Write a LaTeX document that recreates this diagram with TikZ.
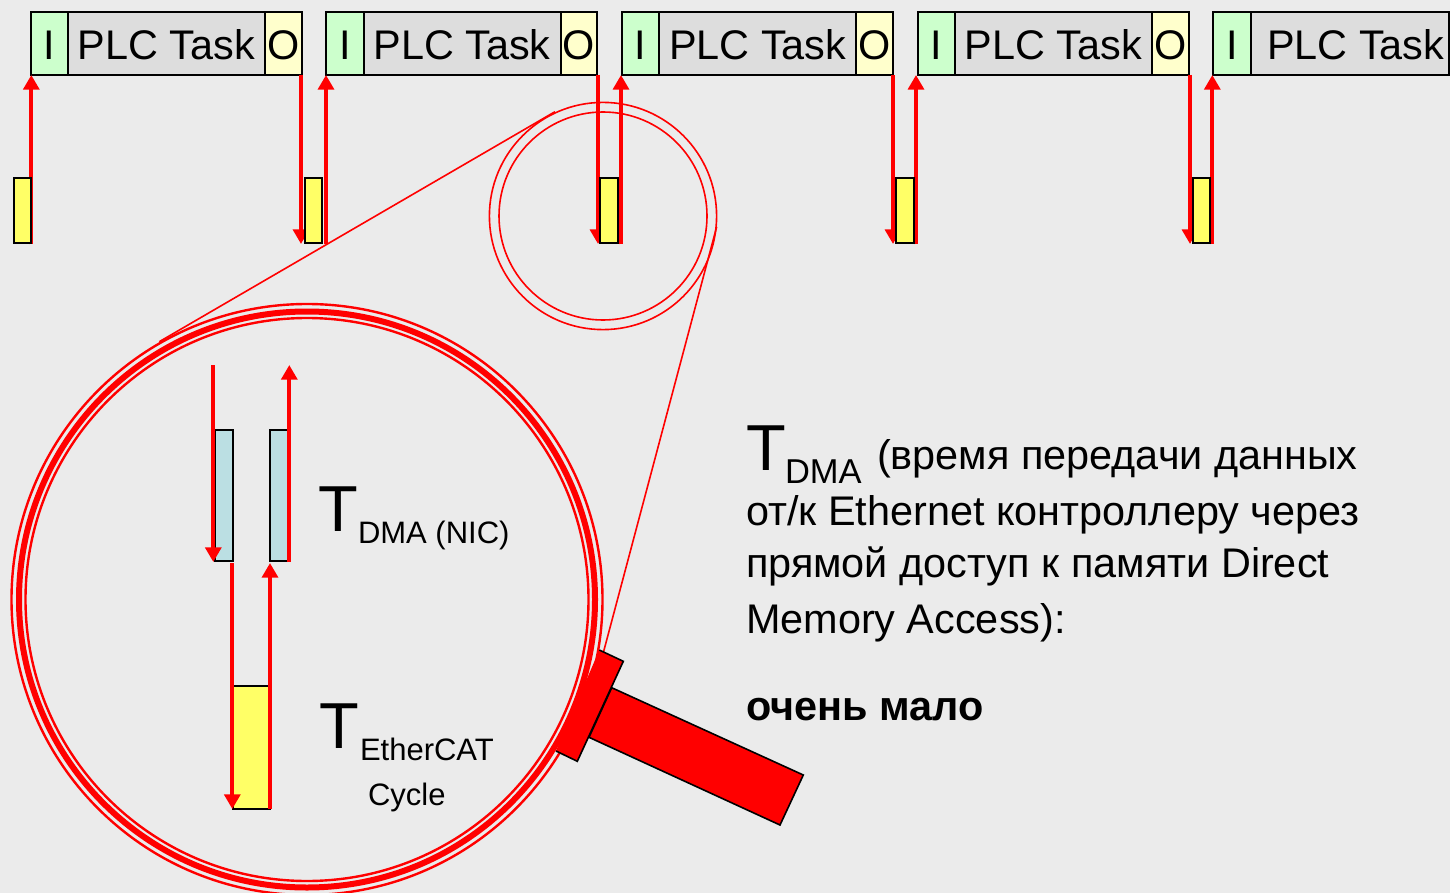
\documentclass[tikz,border=0pt]{standalone}
\usepackage{fontspec}
\setmainfont{Liberation Sans}
\usetikzlibrary{arrows.meta}
\definecolor{bgc}{HTML}{EBEBEB}
\definecolor{inc}{HTML}{CCFFCC}
\definecolor{taskc}{HTML}{DDDDDD}
\definecolor{outc}{HTML}{FFFFCC}
\definecolor{yelc}{HTML}{FFFF66}
\definecolor{nicc}{HTML}{BBDFE3}
\tikzset{
  slot/.style={draw=black,line width=1pt,inner sep=0pt,outer sep=0pt,anchor=north west,minimum height=31.8pt,font=\fontsize{20.7}{24}\selectfont,text height=16.3pt,text depth=0pt},
  cell/.style={draw=black,line width=1pt,inner sep=0pt,outer sep=0pt,anchor=north west},
  flow/.style={draw=red,line width=1.9pt,-{Triangle[length=7.3pt,width=7.9pt]}},
  ring/.style={draw=red,circle,inner sep=0pt,outer sep=0pt},
  txt/.style={anchor=base west,inner sep=0pt,outer sep=0pt},
  lensline/.style={draw=red,line width=0.8pt}
}
\begin{document}
\begin{tikzpicture}[x=0.5pt,y=-0.5pt]
\useasboundingbox (0,0) rectangle (1450,893);
\fill[bgc] (0,0) rectangle (1450,893);
% top row of tasks
\foreach \i/\x in {1/30.7,2/326.3,3/622,4/917.7} {
  \node[slot,fill=inc,minimum width=18.65pt] (I\i) at (\x,11.7) {I};
  \node[slot,fill=taskc,minimum width=98.5pt] (P\i) at (I\i.north east) {PLC Task};
  \node[slot,fill=outc,minimum width=18.4pt] (O\i) at (P\i.north east) {O};
}
\node[slot,fill=inc,minimum width=18.65pt] (I5) at (1213.3,11.7) {I};
\node[slot,fill=taskc,minimum width=99.15pt] (P5) at (I5.north east) {\hspace{6pt}PLC Task};
% arrows of the top row
\foreach \i/\x in {1/301,2/598,3/893,4/1190} {
  \coordinate (da\i) at (\x,75);
  \coordinate (db\i) at (\x,244);
  \draw[flow] (da\i) -- (db\i);
}
\foreach \i/\x in {1/31.3,2/326,3/621,4/916,5/1212.3} {
  \coordinate (ua\i) at (\x,244.5);
  \coordinate (ub\i) at (\x,75);
  \draw[flow] (ua\i) -- (ub\i);
}
\foreach \i/\x in {1/13.5,2/304.7,3/600.2,4/896,5/1192.8} {
  \node[cell,fill=yelc,minimum width=8.8pt,minimum height=32.4pt] (Y\i) at (\x,178) {};
}
% big lens content
\node[cell,fill=nicc,minimum width=9pt,minimum height=65.5pt] (N1) at (215,430) {};
\node[cell,fill=nicc,minimum width=9.2pt,minimum height=65.5pt] (N2) at (270,430) {};
\node[cell,fill=yelc,minimum width=18.5pt,minimum height=61.4pt] (E1) at (233,686) {};
\coordinate (a1s) at (213.3,365); \coordinate (a1e) at (213.3,562);
\coordinate (a2s) at (289.3,562); \coordinate (a2e) at (289.3,365);
\coordinate (a3s) at (232.3,563); \coordinate (a3e) at (232.3,809);
\coordinate (a4s) at (270,809);   \coordinate (a4e) at (270,563);
\draw[flow] (a1s) -- (a1e);
\draw[flow] (a2s) -- (a2e);
\draw[flow] (a3s) -- (a3e);
\draw[flow] (a4s) -- (a4e);
% labels in the lens
\node[txt,font=\fontsize{32.5}{36}\selectfont] (t1) at (318,531) {T};
\node[txt,font=\fontsize{15.5}{18}\selectfont] (t1s) at (358,543) {DMA (NIC)};
\node[txt,font=\fontsize{32.5}{36}\selectfont] (t2) at (319.5,748) {T};
\node[txt,font=\fontsize{15.5}{18}\selectfont] (t2s) at (360,760) {EtherCAT};
\node[txt,font=\fontsize{15.5}{18}\selectfont] (t2c) at (368,805) {Cycle};
% magnifier rings
\node[ring,line width=1.2pt,minimum size=295.5pt] (r1) at (307,599.5) {};
\node[ring,line width=3pt,minimum size=288pt] (r2) at (307,599.5) {};
\node[ring,line width=1.2pt,minimum size=281.5pt] (r3) at (307,599.5) {};
\node[ring,line width=0.8pt,minimum size=113.6pt] (s1) at (603,216) {};
\node[ring,line width=0.8pt,minimum size=104pt] (s2) at (603,216) {};
\coordinate (l1a) at (555,111.7); \coordinate (l1b) at (159.3,341.7);
\coordinate (l2a) at (716.7,226.7); \coordinate (l2b) at (603.5,652);
\draw[lensline] (l1a) -- (l1b);
\draw[lensline] (l2a) -- (l2b);
% handle
\filldraw[fill=red,draw=black,line width=0.8pt] (611.7,687.7) -- (803.3,775) -- (780,825) -- (589,737.3) -- cycle;
\fill[red] (599.3,650) -- (623.3,661.3) -- (577.3,761.3) -- (556,751) -- cycle;
\draw[black,line width=0.8pt] (599.3,650) -- (623.3,661.3) -- (577.3,761.3) -- (556,751);
% right text
\node[txt,font=\fontsize{32.5}{36}\selectfont] (T) at (746,470) {T};
\node[txt,font=\fontsize{17.25}{20}\selectfont] (Ts) at (785,483) {DMA};
\node[txt,font=\fontsize{20.7}{24}\selectfont] (L1) at (877,469.5) {(время передачи данных};
\node[txt,font=\fontsize{20.7}{24}\selectfont] (L2) at (746,525.7) {от/к Ethernet контроллеру через};
\node[txt,font=\fontsize{20.7}{24}\selectfont] (L3) at (746,577) {прямой доступ к памяти Direct};
\node[txt,font=\fontsize{20.7}{24}\selectfont] (L4) at (746,633.5) {Memory Access):};
\node[txt,font=\fontsize{20.7}{24}\selectfont\bfseries] (L5) at (746,720) {очень мало};
\end{tikzpicture}
\end{document}
